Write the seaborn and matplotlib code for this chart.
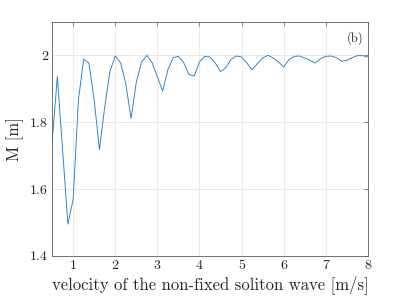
import matplotlib
matplotlib.use("Agg")
import matplotlib.pyplot as plt
import seaborn as sns
import pandas as pd
import numpy as np

# velocity samples (step 0.125 m/s) and measured M [m]
velocity = np.arange(0.5, 8.0001, 0.125)
M = [1.741, 1.937, 1.716, 1.495, 1.570, 1.866, 1.988, 1.977, 1.866, 1.718,
     1.846, 1.953, 1.998, 1.978, 1.915, 1.811, 1.920, 1.980, 2.000, 1.978,
     1.935, 1.893, 1.957, 1.993, 1.997, 1.978, 1.943, 1.938, 1.980, 1.997,
     1.995, 1.977, 1.951, 1.963, 1.988, 1.998, 1.995, 1.977, 1.957, 1.975,
     1.992, 2.000, 1.992, 1.980, 1.965, 1.987, 1.997, 1.998, 1.992, 1.985,
     1.977, 1.990, 1.997, 1.998, 1.993, 1.982, 1.985, 1.993, 1.999, 1.999,
     1.995]
xticks = [1, 2, 3, 4, 5, 6, 7, 8]
yticks = [1.4, 1.6, 1.8, 2.0]
ytick_labels = ["1.4", "1.6", "1.8", "2"]

df = pd.DataFrame({"v": velocity, "M": M})

sns.set_theme(style="whitegrid")
plt.rcParams["font.family"] = ["cmr10", "DejaVu Serif"]
plt.rcParams["axes.formatter.use_mathtext"] = True

fig = plt.figure(figsize=(4.07, 3.0), dpi=100)
ax = fig.add_axes([0.128, 0.147, 0.776, 0.78])
sns.lineplot(data=df, x="v", y="M", ax=ax, color="#1f80c8", linewidth=0.65)

ax.set_xlim(0.5, 8)
ax.set_ylim(1.4, 2.1)
ax.set_xticks(xticks)
ax.set_xticklabels([str(t) for t in xticks])
ax.set_yticks(yticks)
ax.set_yticklabels(ytick_labels)
ax.grid(True, color="#e6e6e6", linewidth=0.6)
for s in ax.spines.values():
    s.set_color("#5a5a5a")
    s.set_linewidth(0.6)
    s.set_visible(True)
ax.tick_params(direction="in", length=3, width=0.5, color="#5a5a5a",
               labelsize=10, top=True, right=True, pad=3, labelcolor="#262626")
ax.set_xlabel("velocity of the non-fixed soliton wave [m/s]", fontsize=12, color="#262626", labelpad=2)
ax.set_ylabel("M [m]", fontsize=12, color="#262626", labelpad=4)
ax.text(0.985, 0.93, "(b)", transform=ax.transAxes, ha="right", va="center",
        fontsize=9, color="#262626")

fig.savefig("out.png", dpi=100)
